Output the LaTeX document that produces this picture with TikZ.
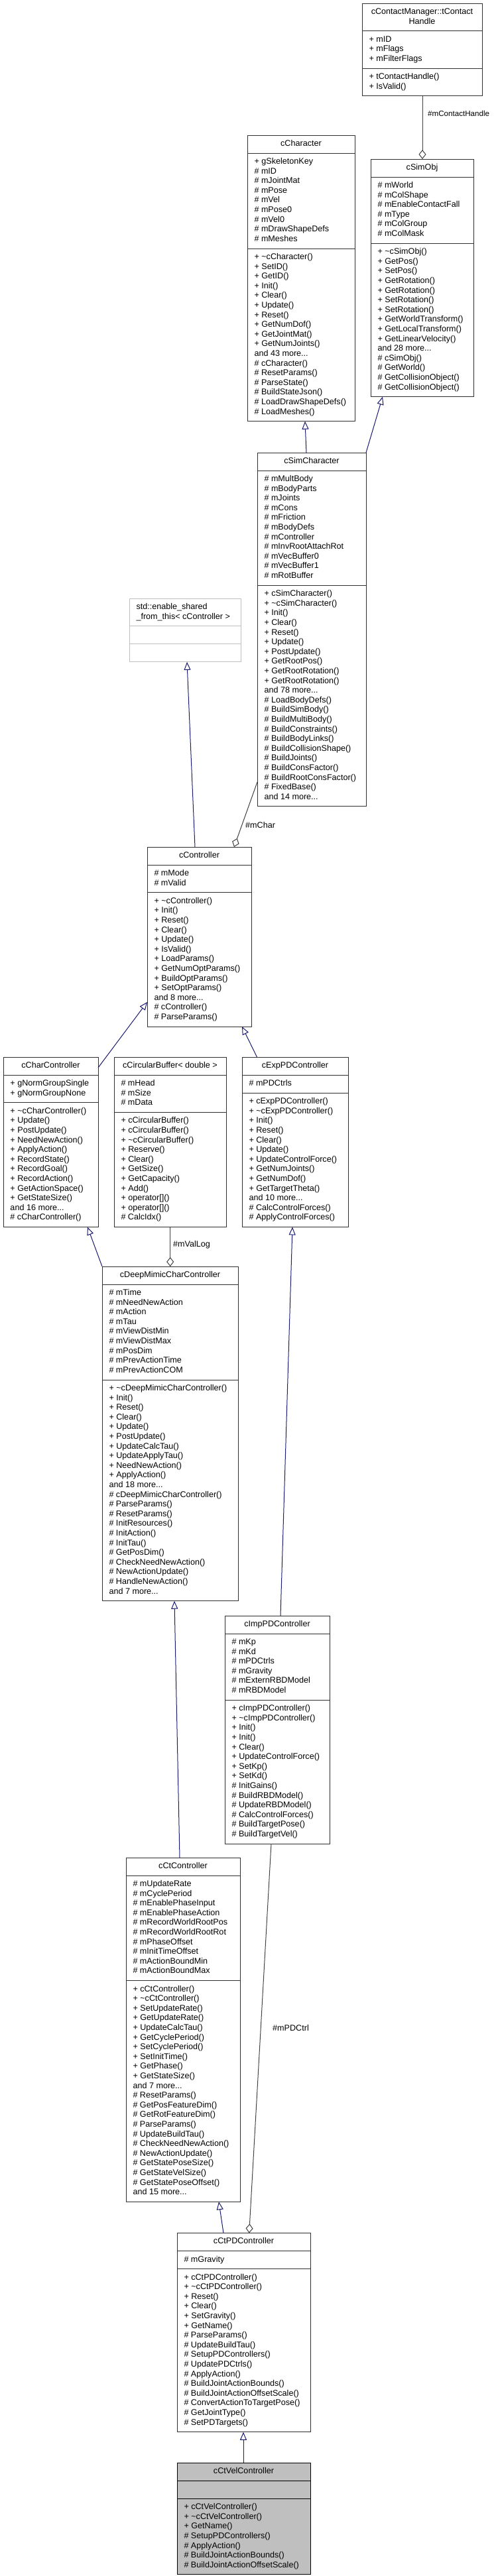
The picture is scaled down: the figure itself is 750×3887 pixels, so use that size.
\documentclass[tikz,border=0pt]{standalone}
\usepackage{fontspec}
\setmainfont{Liberation Sans}
\usetikzlibrary{shapes.multipart,arrows.meta}
\definecolor{edgeblue}{HTML}{191970}
\definecolor{agggray}{HTML}{404040}
\definecolor{boxline}{HTML}{303030}
\definecolor{extline}{HTML}{BFBFBF}
\definecolor{mainfill}{HTML}{BFBFBF}
\newcommand{\mbr}[1]{\hbox to 0pt{\rule[-4.4pt]{0pt}{14.6pt}#1\hss}}
\newcommand{\mtl}[1]{\hbox to 0pt{\hss\rule[-4.4pt]{0pt}{14.6pt}#1\hss}}
\newcommand{\mysec}[1]{\vbox{\offinterlineskip #1}}
\newcommand{\tl}{\textasciitilde}
\tikzset{
  cls/.style={rectangle split, rectangle split parts=3, draw=boxline, line width=1pt,
    fill=white, anchor=north west, inner xsep=10.5pt, inner ysep=5.75pt, outer sep=0pt,
    rectangle split part align={center,left,left},
    font=\fontsize{12.6}{14.6}\selectfont, text=black},
  extcls/.style={cls, draw=extline, rectangle split part align={left,left,left}},
  maincls/.style={cls, draw=black, fill=mainfill},
  inh/.style={draw=edgeblue, line width=1pt, -{Triangle[open,length=12pt,width=10pt]}},
  agg/.style={draw=agggray, line width=1pt, {Diamond[open,length=14pt,width=11pt]}-},
  lbl/.style={anchor=west, inner sep=0pt, font=\fontsize{12.6}{14.6}\selectfont, text=black}
}
\begin{document}
\begin{tikzpicture}[x=1pt,y=-1pt]
\useasboundingbox (0,0) rectangle (750,3887);

% cContactManager::tContactHandle
\node[cls, minimum width=181] (contact) at (546,5) {\mysec{\mtl{cContactManager::tContact}\mtl{Handle}}
\nodepart{two}\mysec{\mbr{+ mID}\mbr{+ mFlags}\mbr{+ mFilterFlags}}
\nodepart{three}\mysec{\mbr{+ tContactHandle()}\mbr{+ IsValid()}}};

% cCharacter
\node[cls, minimum width=162] (character) at (373,204) {\mysec{\mtl{cCharacter}}
\nodepart{two}\mysec{\mbr{+ gSkeletonKey}\mbr{\# mID}\mbr{\# mJointMat}\mbr{\# mPose}\mbr{\# mVel}\mbr{\# mPose0}\mbr{\# mVel0}\mbr{\# mDrawShapeDefs}\mbr{\# mMeshes}}
\nodepart{three}\mysec{\mbr{+ \tl cCharacter()}\mbr{+ SetID()}\mbr{+ GetID()}\mbr{+ Init()}\mbr{+ Clear()}\mbr{+ Update()}\mbr{+ Reset()}\mbr{+ GetNumDof()}\mbr{+ GetJointMat()}\mbr{+ GetNumJoints()}\mbr{and 43 more...}\mbr{\# cCharacter()}\mbr{\# ResetParams()}\mbr{\# ParseState()}\mbr{\# BuildStateJson()}\mbr{\# LoadDrawShapeDefs()}\mbr{\# LoadMeshes()}}};

% cSimObj
\node[cls, minimum width=155] (simobj) at (559,240) {\mysec{\mtl{cSimObj}}
\nodepart{two}\mysec{\mbr{\# mWorld}\mbr{\# mColShape}\mbr{\# mEnableContactFall}\mbr{\# mType}\mbr{\# mColGroup}\mbr{\# mColMask}}
\nodepart{three}\mysec{\mbr{+ \tl cSimObj()}\mbr{+ GetPos()}\mbr{+ SetPos()}\mbr{+ GetRotation()}\mbr{+ GetRotation()}\mbr{+ SetRotation()}\mbr{+ SetRotation()}\mbr{+ GetWorldTransform()}\mbr{+ GetLocalTransform()}\mbr{+ GetLinearVelocity()}\mbr{and 28 more...}\mbr{\# cSimObj()}\mbr{\# GetWorld()}\mbr{\# GetCollisionObject()}\mbr{\# GetCollisionObject()}}};

% cSimCharacter
\node[cls, minimum width=164] (simchar) at (388,683) {\mysec{\mtl{cSimCharacter}}
\nodepart{two}\mysec{\mbr{\# mMultBody}\mbr{\# mBodyParts}\mbr{\# mJoints}\mbr{\# mCons}\mbr{\# mFriction}\mbr{\# mBodyDefs}\mbr{\# mController}\mbr{\# mInvRootAttachRot}\mbr{\# mVecBuffer0}\mbr{\# mVecBuffer1}\mbr{\# mRotBuffer}}
\nodepart{three}\mysec{\mbr{+ cSimCharacter()}\mbr{+ \tl cSimCharacter()}\mbr{+ Init()}\mbr{+ Clear()}\mbr{+ Reset()}\mbr{+ Update()}\mbr{+ PostUpdate()}\mbr{+ GetRootPos()}\mbr{+ GetRootRotation()}\mbr{+ GetRootRotation()}\mbr{and 78 more...}\mbr{\# LoadBodyDefs()}\mbr{\# BuildSimBody()}\mbr{\# BuildMultiBody()}\mbr{\# BuildConstraints()}\mbr{\# BuildBodyLinks()}\mbr{\# BuildCollisionShape()}\mbr{\# BuildJoints()}\mbr{\# BuildConsFactor()}\mbr{\# BuildRootConsFactor()}\mbr{\# FixedBase()}\mbr{and 14 more...}}};

% std::enable_shared_from_this
\node[extcls, minimum width=168] (enable) at (195,903) {\mysec{\mbr{std::enable\_shared}\mbr{\_from\_this< cController >}}
\nodepart{two}\mysec{\mbr{}}
\nodepart{three}\mysec{\mbr{}}};

% cController
\node[cls, minimum width=157] (ctrl) at (222,1278) {\mysec{\mtl{cController}}
\nodepart{two}\mysec{\mbr{\# mMode}\mbr{\# mValid}}
\nodepart{three}\mysec{\mbr{+ \tl cController()}\mbr{+ Init()}\mbr{+ Reset()}\mbr{+ Clear()}\mbr{+ Update()}\mbr{+ IsValid()}\mbr{+ LoadParams()}\mbr{+ GetNumOptParams()}\mbr{+ BuildOptParams()}\mbr{+ SetOptParams()}\mbr{and 8 more...}\mbr{\# cController()}\mbr{\# ParseParams()}}};

% cCharController
\node[cls, minimum width=143] (charctrl) at (5,1595) {\mysec{\mtl{cCharController}}
\nodepart{two}\mysec{\mbr{+ gNormGroupSingle}\mbr{+ gNormGroupNone}}
\nodepart{three}\mysec{\mbr{+ \tl cCharController()}\mbr{+ Update()}\mbr{+ PostUpdate()}\mbr{+ NeedNewAction()}\mbr{+ ApplyAction()}\mbr{+ RecordState()}\mbr{+ RecordGoal()}\mbr{+ RecordAction()}\mbr{+ GetActionSpace()}\mbr{+ GetStateSize()}\mbr{and 16 more...}\mbr{\# cCharController()}}};

% cCircularBuffer< double >
\node[cls, minimum width=169] (circbuf) at (172,1595) {\mysec{\mtl{cCircularBuffer< double >}}
\nodepart{two}\mysec{\mbr{\# mHead}\mbr{\# mSize}\mbr{\# mData}}
\nodepart{three}\mysec{\mbr{+ cCircularBuffer()}\mbr{+ cCircularBuffer()}\mbr{+ \tl cCircularBuffer()}\mbr{+ Reserve()}\mbr{+ Clear()}\mbr{+ GetSize()}\mbr{+ GetCapacity()}\mbr{+ Add()}\mbr{+ operator[]()}\mbr{+ operator[]()}\mbr{\# CalcIdx()}}};

% cExpPDController
\node[cls, minimum width=160] (exppd) at (365,1595) {\mysec{\mtl{cExpPDController}}
\nodepart{two}\mysec{\mbr{\# mPDCtrls}}
\nodepart{three}\mysec{\mbr{+ cExpPDController()}\mbr{+ \tl cExpPDController()}\mbr{+ Init()}\mbr{+ Reset()}\mbr{+ Clear()}\mbr{+ Update()}\mbr{+ UpdateControlForce()}\mbr{+ GetNumJoints()}\mbr{+ GetNumDof()}\mbr{+ GetTargetTheta()}\mbr{and 10 more...}\mbr{\# CalcControlForces()}\mbr{\# ApplyControlForces()}}};

% cDeepMimicCharController
\node[cls, minimum width=205] (deepmimic) at (154,1911) {\mysec{\mtl{cDeepMimicCharController}}
\nodepart{two}\mysec{\mbr{\# mTime}\mbr{\# mNeedNewAction}\mbr{\# mAction}\mbr{\# mTau}\mbr{\# mViewDistMin}\mbr{\# mViewDistMax}\mbr{\# mPosDim}\mbr{\# mPrevActionTime}\mbr{\# mPrevActionCOM}}
\nodepart{three}\mysec{\mbr{+ \tl cDeepMimicCharController()}\mbr{+ Init()}\mbr{+ Reset()}\mbr{+ Clear()}\mbr{+ Update()}\mbr{+ PostUpdate()}\mbr{+ UpdateCalcTau()}\mbr{+ UpdateApplyTau()}\mbr{+ NeedNewAction()}\mbr{+ ApplyAction()}\mbr{and 18 more...}\mbr{\# cDeepMimicCharController()}\mbr{\# ParseParams()}\mbr{\# ResetParams()}\mbr{\# InitResources()}\mbr{\# InitAction()}\mbr{\# InitTau()}\mbr{\# GetPosDim()}\mbr{\# CheckNeedNewAction()}\mbr{\# NewActionUpdate()}\mbr{\# HandleNewAction()}\mbr{and 7 more...}}};

% cImpPDController
\node[cls, minimum width=158] (imppd) at (339,2438) {\mysec{\mtl{cImpPDController}}
\nodepart{two}\mysec{\mbr{\# mKp}\mbr{\# mKd}\mbr{\# mPDCtrls}\mbr{\# mGravity}\mbr{\# mExternRBDModel}\mbr{\# mRBDModel}}
\nodepart{three}\mysec{\mbr{+ cImpPDController()}\mbr{+ \tl cImpPDController()}\mbr{+ Init()}\mbr{+ Init()}\mbr{+ Clear()}\mbr{+ UpdateControlForce()}\mbr{+ SetKp()}\mbr{+ SetKd()}\mbr{\# InitGains()}\mbr{\# BuildRBDModel()}\mbr{\# UpdateRBDModel()}\mbr{\# CalcControlForces()}\mbr{\# BuildTargetPose()}\mbr{\# BuildTargetVel()}}};

% cCtController
\node[cls, minimum width=172] (ctctrl) at (190,2803) {\mysec{\mtl{cCtController}}
\nodepart{two}\mysec{\mbr{\# mUpdateRate}\mbr{\# mCyclePeriod}\mbr{\# mEnablePhaseInput}\mbr{\# mEnablePhaseAction}\mbr{\# mRecordWorldRootPos}\mbr{\# mRecordWorldRootRot}\mbr{\# mPhaseOffset}\mbr{\# mInitTimeOffset}\mbr{\# mActionBoundMin}\mbr{\# mActionBoundMax}}
\nodepart{three}\mysec{\mbr{+ cCtController()}\mbr{+ \tl cCtController()}\mbr{+ SetUpdateRate()}\mbr{+ GetUpdateRate()}\mbr{+ UpdateCalcTau()}\mbr{+ GetCyclePeriod()}\mbr{+ SetCyclePeriod()}\mbr{+ SetInitTime()}\mbr{+ GetPhase()}\mbr{+ GetStateSize()}\mbr{and 7 more...}\mbr{\# ResetParams()}\mbr{\# GetPosFeatureDim()}\mbr{\# GetRotFeatureDim()}\mbr{\# ParseParams()}\mbr{\# UpdateBuildTau()}\mbr{\# CheckNeedNewAction()}\mbr{\# NewActionUpdate()}\mbr{\# GetStatePoseSize()}\mbr{\# GetStateVelSize()}\mbr{\# GetStatePoseOffset()}\mbr{and 15 more...}}};

% cCtPDController
\node[cls, minimum width=201] (ctpd) at (267,3369.5) {\mysec{\mtl{cCtPDController}}
\nodepart{two}\mysec{\mbr{\# mGravity}}
\nodepart{three}\mysec{\mbr{+ cCtPDController()}\mbr{+ \tl cCtPDController()}\mbr{+ Reset()}\mbr{+ Clear()}\mbr{+ SetGravity()}\mbr{+ GetName()}\mbr{\# ParseParams()}\mbr{\# UpdateBuildTau()}\mbr{\# SetupPDControllers()}\mbr{\# UpdatePDCtrls()}\mbr{\# ApplyAction()}\mbr{\# BuildJointActionBounds()}\mbr{\# BuildJointActionOffsetScale()}\mbr{\# ConvertActionToTargetPose()}\mbr{\# GetJointType()}\mbr{\# SetPDTargets()}}};

% cCtVelController (main)
\node[maincls, minimum width=201] (ctvel) at (267,3716) {\mysec{\mtl{cCtVelController}}
\nodepart{two}\mysec{\mbr{}}
\nodepart{three}\mysec{\mbr{+ cCtVelController()}\mbr{+ \tl cCtVelController()}\mbr{+ GetName()}\mbr{\# SetupPDControllers()}\mbr{\# ApplyAction()}\mbr{\# BuildJointActionBounds()}\mbr{\# BuildJointActionOffsetScale()}}};

% ---- connectors ----
\draw[agg] (simobj.north -| 637,0) -- (contact.south -| 637,0);
\node[lbl, font=\fontsize{11.6}{14}\selectfont] (lcontact) at (645,171) {\#mContactHandle};

\draw[inh] (simchar.north -| 462,0) -- (character.south -| 460,0);
\draw[inh] (simchar.north east) -- (simobj.south -| 577,0);

\draw[inh] (ctrl.north -| 294,0) -- (enable.south -| 282,0);
\draw[agg] (ctrl.north -| 353,0) -- (simchar.west |- 0,1180);
\node[lbl] (lchar) at (370,1245) {\#mChar};

\draw[inh] (charctrl.east |- 0,1611) -- (ctrl.west |- 0,1512);
\draw[inh] (exppd.north -| 387.5,0) -- (ctrl.south -| 365,0);

\draw[agg] (deepmimic.north -| 256.7,0) -- (circbuf.south -| 256.7,0);
\node[lbl] (lvallog) at (261,1878) {\#mValLog};

\draw[inh] (deepmimic.north west) -- (charctrl.south -| 132,0);
\draw[inh] (imppd.north -| 423,0) -- (exppd.south -| 441,0);
\draw[inh] (ctctrl.north -| 271,0) -- (deepmimic.south -| 263,0);
\draw[inh] (ctpd.north -| 337,0) -- (ctctrl.south -| 330,0);
\draw[agg] (ctpd.north -| 375.7,0) -- (imppd.south -| 409,0);
\node[lbl] (lpdctrl) at (411,3060) {\#mPDCtrl};
\draw[inh] (ctvel.north -| 367,0) -- (ctpd.south -| 367,0);
\end{tikzpicture}
\end{document}
